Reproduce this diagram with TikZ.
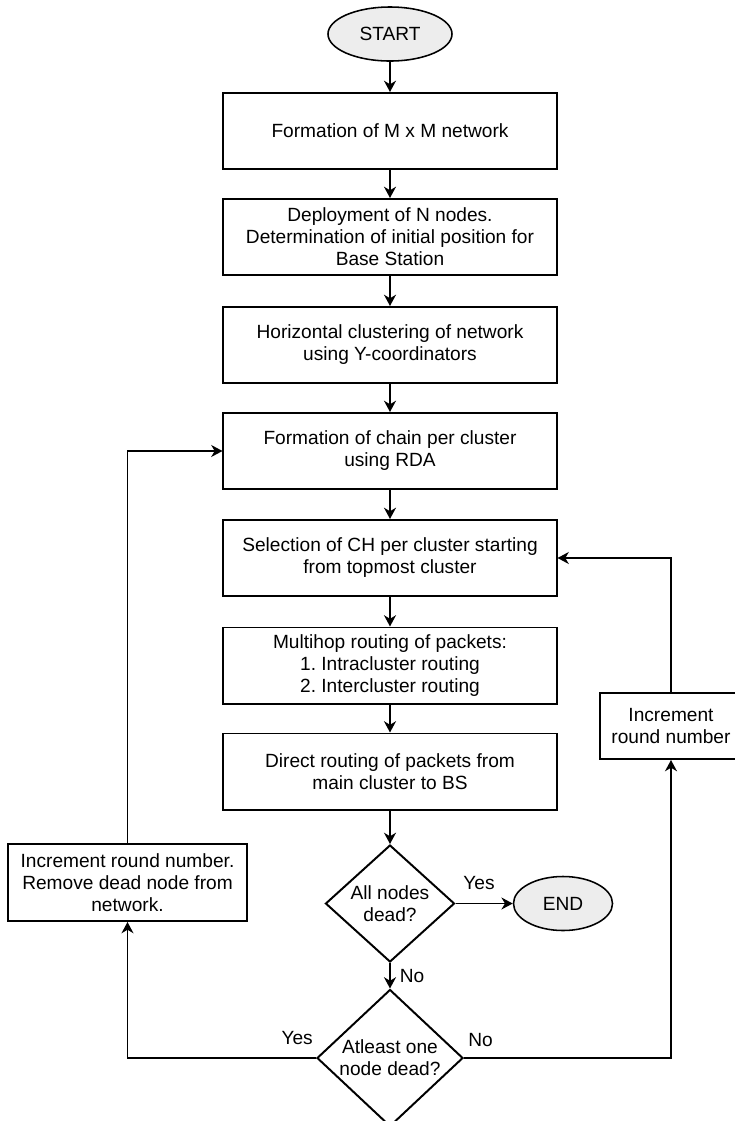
\documentclass[tikz,border=0pt]{standalone}
\usepackage{fontspec}
\setmainfont{Liberation Sans}
\usetikzlibrary{shapes.geometric,arrows.meta}

\tikzset{
  box/.style={draw,line width=1.4pt,minimum width=8.325cm,minimum height=1.9cm,align=center},
  term/.style={draw,ellipse,fill=black!7,line width=1.1pt,minimum width=3.1cm,minimum height=1.35cm},
  decide/.style={draw,diamond,line width=1.4pt,inner sep=0pt,align=center},
  flow/.style={line width=1.4pt,-{Stealth[length=8pt,width=8.5pt,inset=2.5pt]}}
}

\begin{document}
\begin{tikzpicture}[x=0.025cm,y=-0.025cm,font=\fontsize{13.6}{15.6}\selectfont\frenchspacing]
\useasboundingbox (0,0) rectangle (735,1121);
\node[term] (start) at (390,34) {START};
\node[box] (net) at (390,131) {Formation of M x M network};
\node[box] (deploy) at (390,237) {Deployment of N nodes.\\Determination of initial position for\\Base Station};
\node[box] (hclust) at (390,345) {Horizontal clustering of network\\using Y-coordinators};
\node[box] (chain) at (390,451) {Formation of chain per cluster\\using RDA};
\node[box] (select) at (390,558) {Selection of CH per cluster starting\\from topmost cluster};
\node[box] (multihop) at (390,665.5) {Multihop routing of packets:\\1. Intracluster routing\\2. Intercluster routing};
\node[box] (direct) at (390,771.5) {Direct routing of packets from\\main cluster to BS};
\node[decide,minimum width=3.225cm,minimum height=2.925cm] (alldead) at (390,903.5) {All nodes\\dead?};
\node[term,minimum width=2.475cm] (end) at (563,903.5) {END};
\node[decide,minimum width=3.65cm,minimum height=3.25cm] (onedead) at (390,1058) {Atleast one\\node dead?};
\node[draw,line width=1.4pt,align=center,minimum width=5.975cm,minimum height=1.925cm] (remove) at (127.5,882.5) {Increment round number.\\Remove dead node from\\network.};
\node[draw,line width=1.4pt,align=center,minimum width=3.55cm,minimum height=1.65cm] (round) at (671,726) {Increment\\round number};

% main column
\draw[flow] (start) -- (net);
\draw[flow] (net) -- (deploy);
\draw[flow] (deploy) -- (hclust);
\draw[flow] (hclust) -- (chain);
\draw[flow] (chain) -- (select);
\draw[flow] (select) -- (multihop);
\draw[flow] (multihop) -- (direct);
\draw[flow] (direct) -- (alldead);
\draw[flow] (alldead) -- node[pos=0.41,above=6pt] {Yes} (end);
\draw[flow] (alldead) -- node[right=3pt] {No} (onedead);

% loops back
\draw[flow] (onedead.west) -| node[pos=0.05,above=5.5pt] {Yes} (remove.south);
\draw[flow] (remove.north) |- (chain.west);
\draw[flow] (onedead.east) -| node[pos=0.04,above=4pt] {No} (round.south);
\draw[flow] (round.north) |- (select.east);
\end{tikzpicture}
\end{document}
